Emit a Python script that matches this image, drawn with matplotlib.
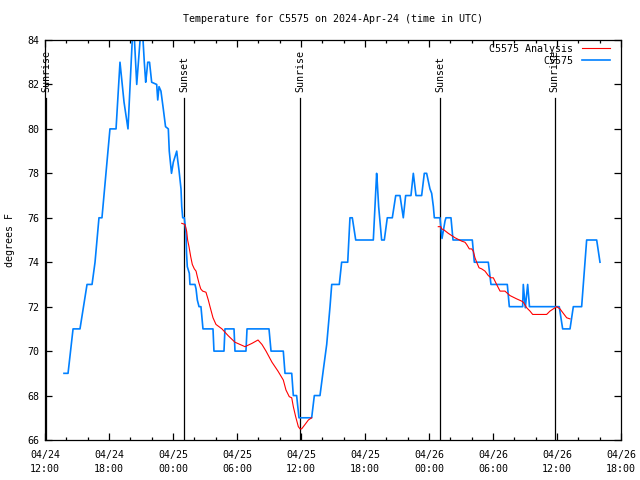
import numpy as np
import pandas as pd
import matplotlib
matplotlib.use("Agg")
import matplotlib.pyplot as plt
import matplotlib.dates as mdates

# Data (hours after 2024-04-24 12:00 UTC, degrees F)
base = pd.Timestamp("2024-04-24 12:00")

obs_hrs = [1.78, 2.16, 2.63, 3.28, 3.94, 4.41, 4.69, 5.06, 5.34, 6.09, 6.66, 7.03,
           7.41, 7.78, 8.28, 8.6, 9.07, 9.31, 9.44, 9.53, 9.63, 9.8, 10.0, 10.47,
           10.57, 10.69, 10.87, 11.09, 11.3, 11.56, 11.65, 11.86, 12.03, 12.35, 12.44,
           12.56, 12.75, 12.82, 12.91, 13.06, 13.22, 13.27, 13.34, 13.53, 13.59, 14.06,
           14.16, 14.28, 14.44, 14.62, 14.81, 15.75, 15.84, 16.78, 16.87, 17.72, 17.81,
           18.84, 18.94, 21.0, 21.19, 22.34, 22.5, 23.13, 23.28, 23.59, 23.81, 25.0,
           25.25, 25.78, 26.09, 26.41, 26.72, 26.88, 27.59, 27.81, 28.38, 28.59, 28.81,
           29.13, 30.78, 31.09, 31.15, 31.28, 31.56, 31.81, 32.09, 32.56, 32.88, 33.28,
           33.59, 33.81, 34.31, 34.53, 34.78, 35.31, 35.56, 35.78, 36.09, 36.25, 36.41,
           36.5, 37.03, 37.22, 37.5, 37.59, 38.06, 38.25, 40.06, 40.25, 41.56, 41.81,
           43.34, 43.53, 44.78, 44.84, 45.03, 45.25, 45.42, 48.21, 48.53, 49.22, 49.53,
           50.31, 50.78, 51.72, 52.03]
obs_temp = [69.0, 69.0, 71.0, 71.0, 73.0, 73.0, 74.0, 76.0, 76.0, 80.0, 80.0, 83.0,
            81.2, 80.0, 85.0, 82.0, 85.0, 83.0, 82.1, 82.5, 83.0, 83.0, 82.1, 82.0,
            81.3, 81.9, 81.7, 80.9, 80.1, 80.0, 79.0, 78.0, 78.5, 79.0, 78.6,
            78.15, 77.3, 76.5, 76.0, 76.0, 75.3, 74.4, 73.8, 73.5, 73.0, 73.0,
            72.8, 72.3, 72.0, 72.0, 71.0, 71.0, 70.0, 70.0, 71.0, 71.0, 70.0,
            70.0, 71.0, 71.0, 70.0, 70.0, 69.0, 69.0, 68.0, 68.0, 67.0, 67.0,
            68.0, 68.0, 69.15, 70.3, 72.0, 73.0, 73.0, 74.0, 74.0, 76.0, 76.0,
            75.0, 75.0, 78.0, 77.6, 76.5, 75.0, 75.0, 76.0, 76.0, 77.0, 77.0,
            76.0, 77.0, 77.0, 78.0, 77.0, 77.0, 78.0, 78.0, 77.3, 77.1, 76.5,
            76.0, 76.0, 75.07, 75.85, 76.0, 76.0, 75.0, 75.0, 74.0, 74.0, 73.0,
            73.0, 72.0, 72.0, 73.0, 71.95, 73.0, 72.0, 72.0, 71.0, 71.0, 72.0,
            72.0, 75.0, 75.0, 74.0]

ana_hrs = [12.82, 13.12, 13.28, 13.37, 13.5, 13.66, 13.81, 14.0, 14.16, 14.28, 14.44,
           14.6, 14.78, 15.09, 15.31, 15.47, 15.75, 16.03, 16.59, 17.16, 17.81, 18.75,
           19.41, 19.97, 20.34, 20.72, 21.28, 21.84, 22.34, 22.59, 22.9, 23.13, 23.28,
           23.5, 23.75, 23.91, 24.06, 24.38, 24.69, 25.0,
           25.01,
           36.87, 37.1, 37.19, 37.41, 37.81, 38.44, 39.06, 39.37, 39.53, 39.78, 40.0,
           40.15, 40.31, 40.47, 40.69, 40.94, 41.25, 41.56, 41.81, 42.03, 42.34, 42.66,
           43.12, 43.59, 44.22, 44.69, 44.84, 45.16, 45.47, 45.72, 47.03, 47.34, 47.97,
           48.28, 48.59, 48.91, 49.22]
ana_temp = [75.75, 75.7, 75.4, 75.0, 74.7, 74.25, 73.9, 73.7, 73.6, 73.35, 73.05,
            72.8, 72.7, 72.65, 72.3, 72.0, 71.5, 71.2, 71.0, 70.7, 70.4, 70.2,
            70.35, 70.5, 70.3, 70.0, 69.5, 69.1, 68.7, 68.25, 67.95, 67.9, 67.5,
            67.05, 66.6, 66.5, 66.5, 66.7, 66.9, 67.0,
            np.nan,
            75.6, 75.6, 75.5, 75.45, 75.3, 75.1, 74.95, 74.9, 74.8, 74.6, 74.6,
            74.5, 74.2, 74.0, 73.75, 73.7, 73.6, 73.4, 73.3, 73.3, 73.0, 72.7,
            72.7, 72.5, 72.35, 72.25, 72.2, 71.95, 71.8, 71.65, 71.65, 71.8, 72.0,
            71.9, 71.7, 71.5, 71.45]

sun_hrs = [0.09, 13.03, 23.9, 37.03, 47.8]
sun_labels = ["Sunrise", "Sunset", "Sunrise", "Sunset", "Sunrise"]

obs_t = base + pd.to_timedelta(obs_hrs, unit="h")
ana_t = base + pd.to_timedelta(ana_hrs, unit="h")
sun_t = base + pd.to_timedelta(sun_hrs, unit="h")

font = "DejaVu Sans Mono"
fs = 7.2

fig = plt.figure(figsize=(6.4, 4.8), dpi=100)
ax = fig.add_axes([45 / 640, 40 / 480, 576 / 640, 400 / 480])

# sunrise / sunset markers
for t, lab in zip(sun_t, sun_labels):
    ax.plot([t, t], [66, 81.4], color="black", lw=0.9, zorder=1)
    ax.text(t, 81.66, lab, rotation=90, ha="center", va="bottom",
            fontsize=fs, family=font)

ax.plot(ana_t, ana_temp, color="#ff0000", lw=0.8, label="C5575 Analysis", zorder=3)
ax.plot(obs_t, obs_temp, color="#0080ff", lw=1.2, label="C5575", zorder=2)

ax.set_xlim(base, base + pd.Timedelta(hours=54))
ax.set_ylim(66, 84)
ax.set_yticks(np.arange(66, 85, 2))

ax.xaxis.set_major_locator(mdates.HourLocator(byhour=[0, 6, 12, 18]))
ax.xaxis.set_minor_locator(mdates.HourLocator(interval=2))
ax.xaxis.set_major_formatter(mdates.DateFormatter("%m/%d\n%H:%M"))

ax.tick_params(which="both", direction="in", top=True, right=True)
ax.tick_params(which="major", length=5, width=0.9)
ax.tick_params(which="minor", length=2.5, width=0.9)
ax.tick_params(axis="x", pad=7)
ax.tick_params(axis="y", pad=4)
for lbl in ax.get_xticklabels() + ax.get_yticklabels():
    lbl.set_family(font)
    lbl.set_fontsize(fs)
    lbl.set_linespacing(1.5)
for s in ax.spines.values():
    s.set_linewidth(0.9)

fig.text(333 / 640, 1 - 19 / 480, "Temperature for C5575 on 2024-Apr-24 (time in UTC)",
         ha="center", va="center", fontsize=fs, family=font)
fig.text(10 / 640, 0.5, "degrees F", rotation=90, ha="center", va="center",
         fontsize=fs, family=font)

leg = ax.legend(loc="upper right", bbox_to_anchor=(0.981, 0.99), frameon=False,
                markerfirst=False, prop={"family": font, "size": fs},
                handlelength=2.8, handletextpad=0.9, labelspacing=0.2,
                borderpad=0, borderaxespad=0)
for t in leg.get_texts():
    t.set_ha("right")

fig.savefig("out.png", dpi=100)
